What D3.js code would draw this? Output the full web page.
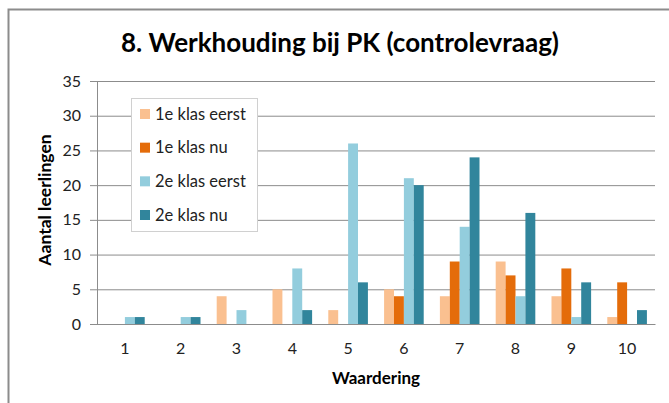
<!DOCTYPE html>
<html>
<head>
<meta charset="utf-8">
<script src="https://cdn.jsdelivr.net/npm/d3@7"></script>
<style>
  body { margin: 0; background: #fff; }
  svg { display: block; font-family: Lato, "Open Sans", sans-serif; }
</style>
</head>
<body>
<svg id="chart" width="669" height="403"></svg>
<script>
var categories = ["1", "2", "3", "4", "5", "6", "7", "8", "9", "10"];
var seriesNames = ["1e klas eerst", "1e klas nu", "2e klas eerst", "2e klas nu"];
var klas1Eerst = [0, 0, 4, 5, 2, 5, 4, 9, 4, 1];
var klas1Nu = [0, 0, 0, 0, 0, 4, 9, 7, 8, 6];
var klas2Eerst = [1, 1, 2, 8, 26, 21, 14, 4, 1, 0];
var klas2Nu = [1, 1, 0, 2, 6, 20, 24, 16, 6, 2];
var yTicks = [0, 5, 10, 15, 20, 25, 30, 35];
var colors = ["#fac090", "#e46c0a", "#93cddd", "#31859c"];

var seriesValues = [klas1Eerst, klas1Nu, klas2Eerst, klas2Nu];

var svg = d3.select("#chart");

var margin = { left: 97, right: 14, top: 81, bottom: 79 };
var width = 669, height = 403;

// chart frame
svg.append("path")
    .attr("d", "M8.5,403 V9.5 H669")
    .attr("fill", "none")
    .attr("stroke", "#8c8c8c")
    .attr("stroke-width", 2);

var x = d3.scaleBand()
    .domain(categories)
    .range([margin.left, width - margin.right])
    .paddingInner(0.29)
    .paddingOuter(0.145);

var xSub = d3.scaleBand()
    .domain(d3.range(seriesNames.length))
    .range([0, x.bandwidth()]);

var y = d3.scaleLinear()
    .domain([0, 35])
    .range([height - margin.bottom, margin.top]);

// gridlines with small ticks on the left
var yAxis = d3.axisLeft(y)
    .tickValues(yTicks)
    .tickSize(-(width - margin.right - margin.left))
    .tickPadding(16);

var gy = svg.append("g")
    .attr("transform", "translate(" + margin.left + ",0)")
    .call(yAxis);
gy.select(".domain").remove();
gy.selectAll(".tick line")
    .attr("x1", -7)
    .attr("stroke", "#8c8c8c");
gy.selectAll(".tick text")
    .attr("font-size", 16)
    .attr("fill", "#222")
    .attr("font-family", "Lato, sans-serif");

// vertical axis line
svg.append("line")
    .attr("x1", margin.left + 0.5).attr("x2", margin.left + 0.5)
    .attr("y1", y(35)).attr("y2", y(0))
    .attr("stroke", "#8c8c8c");

// bars
var groups = svg.append("g").selectAll("g")
    .data(categories)
    .join("g")
    .attr("transform", d => "translate(" + x(d) + ",0)");

groups.selectAll("rect")
    .data((d, i) => seriesValues.map((s, k) => ({ k: k, v: s[i] })))
    .join("rect")
    .filter(d => d.v > 0)
    .attr("x", d => xSub(d.k))
    .attr("width", xSub.bandwidth())
    .attr("y", d => y(d.v))
    .attr("height", d => y(0) - y(d.v))
    .attr("fill", d => colors[d.k]);

// x axis
var xAxis = d3.axisBottom(x).tickSize(0).tickPadding(19);
var gx = svg.append("g")
    .attr("transform", "translate(0," + y(0) + ")")
    .call(xAxis);
gx.select(".domain")
    .attr("stroke", "#8c8c8c");
gx.selectAll(".tick text")
    .attr("font-size", 16)
    .attr("fill", "#222")
    .attr("font-family", "Lato, sans-serif");

// title and axis titles
svg.append("text")
    .attr("x", 340).attr("y", 52)
    .attr("text-anchor", "middle")
    .attr("font-size", 26)
    .attr("font-weight", "bold")
    .text("8. Werkhouding bij PK (controlevraag)");

svg.append("text")
    .attr("x", 376).attr("y", 384)
    .attr("text-anchor", "middle")
    .attr("font-size", 17)
    .attr("font-weight", "bold")
    .text("Waardering");

svg.append("text")
    .attr("transform", "translate(51,200) rotate(-90)")
    .attr("text-anchor", "middle")
    .attr("font-size", 17.5)
    .attr("font-weight", "bold")
    .text("Aantal leerlingen");

// legend
var legend = svg.append("g");
legend.append("rect")
    .attr("x", 131.5).attr("y", 98.5)
    .attr("width", 126).attr("height", 133)
    .attr("fill", "#fff")
    .attr("stroke", "#d0d0d0");

var legendY = d3.scalePoint()
    .domain(seriesNames)
    .range([114, 215]);

var items = legend.selectAll("g")
    .data(seriesNames)
    .join("g")
    .attr("transform", d => "translate(140," + legendY(d) + ")");
items.append("rect")
    .attr("x", 0).attr("y", -5)
    .attr("width", 10).attr("height", 10)
    .attr("fill", (d, i) => colors[i]);
items.append("text")
    .attr("x", 15).attr("y", 5.5)
    .attr("font-size", 16.5)
    .attr("fill", "#222")
    .text(d => d);
</script>
</body>
</html>
